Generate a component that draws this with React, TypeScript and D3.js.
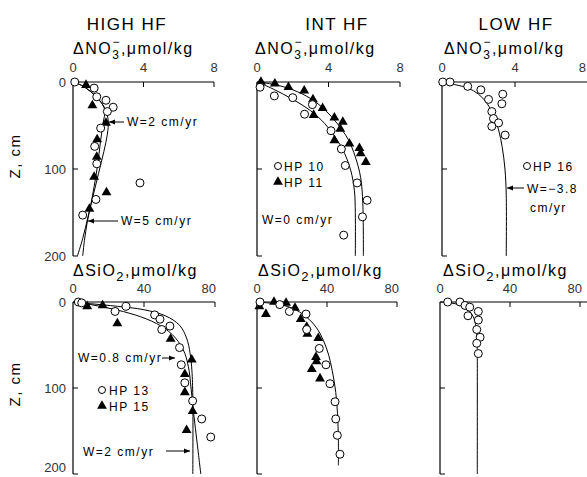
import React from "react";
import * as d3 from "d3";

type Pt = [number, number];

const FONT = "'Liberation Sans', Arial, sans-serif";

// axis ticks
const no3Ticks = [0, 4, 8];
const sio2Ticks = [0, 40, 80];
const depthTicks = [0, 100, 200];

// HIGH HF, ΔNO3 (value, depth cm)
const highNo3Circles: Pt[] = [[0.1, 0], [1.2, 7], [1.35, 17], [1.87, 21], [2.28, 29], [1.95, 34], [1.57, 53], [1.23, 74], [1.35, 94], [3.8, 116], [1.3, 135], [0.55, 153]];
const highNo3Triangles: Pt[] = [[0.74, 3.5], [1.1, 27], [1.87, 47], [1.37, 66], [1.35, 86], [1.2, 109], [1.9, 127], [0.93, 146]];
const highNo3W2: Pt[] = [[0, 0], [0.5, 4], [1.0, 11], [1.5, 21], [1.85, 32], [2.0, 45], [1.95, 60], [1.75, 80], [1.45, 105], [1.15, 130], [0.85, 155], [0.55, 180], [0.25, 200]];
const highNo3W5: Pt[] = [[0, 0], [0.5, 4], [1.0, 11], [1.5, 21], [1.8, 32], [1.7, 48], [1.55, 70], [1.4, 95], [1.2, 120], [1.0, 142], [0.8, 162], [0.65, 182], [0.55, 200]];

// INT HF, ΔNO3
const intNo3Circles: Pt[] = [[0.17, 6], [0.97, 16], [2.0, 18], [3.1, 26], [2.66, 37], [4.14, 56], [4.72, 77], [4.94, 96], [5.6, 116], [6.16, 136], [5.9, 155], [4.85, 176]];
const intNo3Triangles: Pt[] = [[0.22, 0], [1.0, 2], [1.76, 6], [2.64, 10], [3.13, 20], [3.67, 30], [3.17, 38], [4.33, 41], [4.8, 46], [4.66, 54], [4.33, 67], [5.17, 71], [5.73, 76], [5.8, 82], [6.09, 92]];
const intNo3Outer: Pt[] = [[0, 0], [1, 3], [2, 9], [3, 19], [3.8, 32], [4.5, 48], [5.1, 66], [5.5, 86], [5.8, 110], [5.92, 140], [5.95, 200]];
const intNo3Inner: Pt[] = [[0, 0], [0.9, 8], [2, 20], [3, 33], [3.8, 48], [4.4, 64], [4.9, 82], [5.25, 102], [5.45, 125], [5.5, 150], [5.5, 200]];

// LOW HF, ΔNO3
const lowNo3Circles: Pt[] = [[0.04, 0], [0.44, 0], [1.41, 5], [2.13, 9], [2.55, 20], [3.33, 14], [3.28, 25], [2.73, 34], [2.82, 42], [3.1, 47], [2.73, 51], [3.46, 61]];
const lowNo3Fit: Pt[] = [[0, 0], [0.7, 3], [1.43, 7], [2.0, 14], [2.45, 24], [2.8, 37], [3.1, 55], [3.3, 75], [3.45, 100], [3.52, 130], [3.52, 200]];

// HIGH HF, ΔSiO2
const highSiCircles: Pt[] = [[3, 0], [4.9, 1], [29.9, 5], [23.7, 11], [46, 15], [49, 20], [54.6, 28], [50, 32], [60, 53], [61, 73], [63, 94], [67.4, 115], [72.5, 136], [77.6, 157]];
const highSiTriangles: Pt[] = [[8, 5], [16.7, 4], [25, 25], [55, 43], [66.9, 67], [63, 84], [63, 105], [67.4, 127], [64, 149]];
const highSiW08: Pt[] = [[0, 0], [10, 2], [25, 5], [40, 9], [52, 16], [60, 27], [64, 42], [66, 60], [67, 80], [67.5, 110], [67.5, 200]];
const highSiW2: Pt[] = [[0, 0], [10, 3], [22, 8], [35, 15], [47, 25], [56, 38], [62, 55], [65, 75], [66.5, 100], [68, 130], [70, 165], [72, 200]];

// INT HF, ΔSiO2
const intSiCircles: Pt[] = [[1.7, 0], [13, 3], [18.5, 11], [28, 14], [28.4, 32], [35.6, 54], [39.4, 73], [41.7, 95], [44.6, 116], [45, 136], [45.9, 155], [47.4, 177]];
const intSiTriangles: Pt[] = [[1.3, 5], [5.1, 14], [9.7, 0], [16.6, 1], [21.7, 7], [25, 20], [28.4, 29], [28.8, 37], [35, 42], [33.7, 64], [34, 69], [31.3, 78], [36, 89]];
const intSiFit: Pt[] = [[0, 0], [10, 2], [20, 7], [28, 17], [34, 30], [38, 45], [41, 62], [43, 80], [45, 105], [46, 130], [46.5, 160], [46.5, 190]];

// LOW HF, ΔSiO2
const lowSiCircles: Pt[] = [[4.4, 0], [11.4, 0], [14.3, 4], [17, 6], [21.9, 11], [16, 16], [21.9, 21], [21, 32], [22.9, 41], [21, 48], [21.9, 60]];
const lowSiFit: Pt[] = [[0, 0], [6, 1], [12, 4], [16, 9], [19, 17], [20.5, 28], [21.2, 42], [21.3, 60], [21.3, 200]];

type PanelProps = {
  left: number;
  right: number;
  top: number;
  bottom: number;
  xMax: number;
  xTicks: number[];
  axisEnd?: number;
  circles?: Pt[];
  triangles?: Pt[];
  curves: Pt[][];
  yLabels?: boolean;
  tickY: number;
  lastX?: number;
};

const triPath = d3.symbol(d3.symbolTriangle, 42)() as string;

function Panel(p: PanelProps) {
  const x = d3.scaleLinear().domain([0, p.xMax]).range([p.left, p.right]);
  const y = d3.scaleLinear().domain([0, 200]).range([p.top, p.bottom]);
  const line = d3
    .line<Pt>()
    .x(d => x(d[0]))
    .y(d => y(d[1]))
    .curve(d3.curveCatmullRom.alpha(0.5));
  const end = p.axisEnd ?? p.right;
  const last = p.xTicks.length - 1;
  return (
    <g>
      <line x1={x(0)} x2={end} y1={y(0)} y2={y(0)} stroke="#000" strokeWidth={1.2} />
      <line x1={x(0)} x2={x(0)} y1={y(0)} y2={y(200)} stroke="#000" strokeWidth={1.2} />
      {p.xTicks.slice(1).map(t => (
        <line key={t} x1={x(t)} x2={x(t)} y1={y(0)} y2={y(0) + 5} stroke="#000" />
      ))}
      {depthTicks.slice(1).map(t => (
        <line key={t} x1={x(0)} x2={x(0) + 5} y1={y(t)} y2={y(t)} stroke="#000" />
      ))}
      {p.xTicks.map((t, i) => (
        <text
          key={t}
          x={i === last && p.lastX !== undefined ? p.lastX : x(t)}
          y={p.tickY}
          fontSize={13}
          fill="#333"
          textAnchor={i === last && p.lastX !== undefined ? "end" : "middle"}
        >
          {t}
        </text>
      ))}
      {p.yLabels &&
        depthTicks.map(t => (
          <text key={t} x={x(0) - 7} y={Math.min(y(t) + 5, 472)} fontSize={13} fill="#333" textAnchor="end">
            {t}
          </text>
        ))}
      {p.curves.map((c, i) => (
        <path key={i} d={line(c) as string} fill="none" stroke="#000" strokeWidth={1} />
      ))}
      {(p.triangles ?? []).map((d, i) => (
        <path key={i} d={triPath} transform={`translate(${x(d[0])},${y(d[1])})`} fill="#000" />
      ))}
      {(p.circles ?? []).map((d, i) => (
        <circle key={i} cx={x(d[0])} cy={y(d[1])} r={4} fill="#fff" stroke="#000" strokeWidth={1} />
      ))}
    </g>
  );
}

function Arrow({ x1, x2, y }: { x1: number; x2: number; y: number }) {
  // arrow head at x2
  const dir = x2 < x1 ? 1 : -1;
  return (
    <g>
      <line x1={x1} x2={x2} y1={y} y2={y} stroke="#000" strokeWidth={1} />
      <path d={`M${x2},${y}L${x2 + dir * 6},${y - 2.5}L${x2 + dir * 6},${y + 2.5}Z`} fill="#000" />
    </g>
  );
}

function No3Title({ x, y }: { x: number; y: number }) {
  return (
    <text x={x} y={y} fontSize={16} letterSpacing={1.5}>
      ΔNO
      <tspan fontSize={12} dy={5}>3</tspan>
      <tspan fontSize={12} dx={-8} dy={-13}>−</tspan>
      <tspan dy={8}>,μmol/kg</tspan>
    </text>
  );
}

function SiTitle({ x, y }: { x: number; y: number }) {
  return (
    <text x={x} y={y} fontSize={16} letterSpacing={1.5}>
      ΔSiO
      <tspan fontSize={13} dy={5}>2</tspan>
      <tspan dy={-5}>,μmol/kg</tspan>
    </text>
  );
}

const lbl = { fontSize: 12, letterSpacing: 1.5 };

export default function App() {
  const topT = 82, topB = 256, botT = 302, botB = 474;
  return (
    <svg
      width={587}
      height={477}
      style={{ position: "absolute", left: 0, top: 0, background: "#fff" }}
      fontFamily={FONT}
    >
      <rect width={587} height={477} fill="#fff" />
      {/* column titles */}
      <text x={127} y={30} fontSize={17} letterSpacing={1.5} textAnchor="middle">HIGH HF</text>
      <text x={337} y={30} fontSize={17} letterSpacing={1.5} textAnchor="middle">INT HF</text>
      <text x={516} y={30} fontSize={17} letterSpacing={1.5} textAnchor="middle">LOW HF</text>

      <No3Title x={73} y={54} />
      <No3Title x={255} y={54} />
      <No3Title x={444} y={54} />
      <SiTitle x={73} y={276} />
      <SiTitle x={258} y={276} />
      <SiTitle x={443} y={276} />

      <text transform="translate(20,156) rotate(-90)" fontSize={15} letterSpacing={1.5} textAnchor="middle">Z, cm</text>
      <text transform="translate(20,384) rotate(-90)" fontSize={15} letterSpacing={1.5} textAnchor="middle">Z, cm</text>

      <Panel left={73} right={214} top={topT} bottom={topB} xMax={8} xTicks={no3Ticks} tickY={72}
        circles={highNo3Circles} triangles={highNo3Triangles} curves={[highNo3W2, highNo3W5]} yLabels />
      <Panel left={257} right={400} top={topT} bottom={topB} xMax={8} xTicks={no3Ticks} tickY={72}
        circles={intNo3Circles} triangles={intNo3Triangles} curves={[intNo3Outer, intNo3Inner]} />
      <Panel left={442} right={588} top={topT} bottom={topB} xMax={8} xTicks={no3Ticks} tickY={72} axisEnd={587}
        circles={lowNo3Circles} curves={[lowNo3Fit]} lastX={586} />

      <Panel left={73} right={215} top={botT} bottom={botB} xMax={80} xTicks={sio2Ticks} tickY={293}
        circles={highSiCircles} triangles={highSiTriangles} curves={[highSiW08, highSiW2]} yLabels lastX={216} />
      <Panel left={257} right={397} top={botT} bottom={botB} xMax={80} xTicks={sio2Ticks} tickY={293}
        circles={intSiCircles} triangles={intSiTriangles} curves={[intSiFit]} lastX={399} />
      <Panel left={440} right={580} top={botT} bottom={botB} xMax={80} xTicks={sio2Ticks} tickY={293} axisEnd={587}
        circles={lowSiCircles} curves={[lowSiFit]} lastX={582} />

      {/* HIGH HF NO3 annotations */}
      <Arrow x1={124} x2={109} y={122} />
      <text x={127} y={126} {...lbl}>W=2 cm/yr</text>
      <Arrow x1={118} x2={88} y={221} />
      <text x={121} y={225} {...lbl}>W=5 cm/yr</text>

      {/* INT HF NO3 legend */}
      <circle cx={278} cy={166} r={3.5} fill="#fff" stroke="#000" />
      <text x={284} y={171} {...lbl}>HP 10</text>
      <path d={triPath} transform="translate(278,182)" fill="#000" />
      <text x={284} y={187} {...lbl}>HP 11</text>
      <text x={262} y={224} {...lbl}>W=0 cm/yr</text>

      {/* LOW HF NO3 */}
      <circle cx={527} cy={166} r={3.5} fill="#fff" stroke="#000" />
      <text x={533} y={171} {...lbl}>HP 16</text>
      <Arrow x1={524} x2={507} y={188} />
      <text x={527} y={193} {...lbl}>W=−3.8</text>
      <text x={530} y={212} {...lbl}>cm/yr</text>

      {/* HIGH HF SiO2 */}
      <text x={78} y={362} {...lbl}>W=0.8 cm/yr</text>
      <Arrow x1={162} x2={175} y={358} />
      <circle cx={102} cy={390} r={3.5} fill="#fff" stroke="#000" />
      <text x={109} y={395} {...lbl}>HP 13</text>
      <path d={triPath} transform="translate(102,406)" fill="#000" />
      <text x={109} y={411} {...lbl}>HP 15</text>
      <text x={83} y={456} {...lbl}>W=2 cm/yr</text>
      <Arrow x1={166} x2={190} y={451} />
    </svg>
  );
}
